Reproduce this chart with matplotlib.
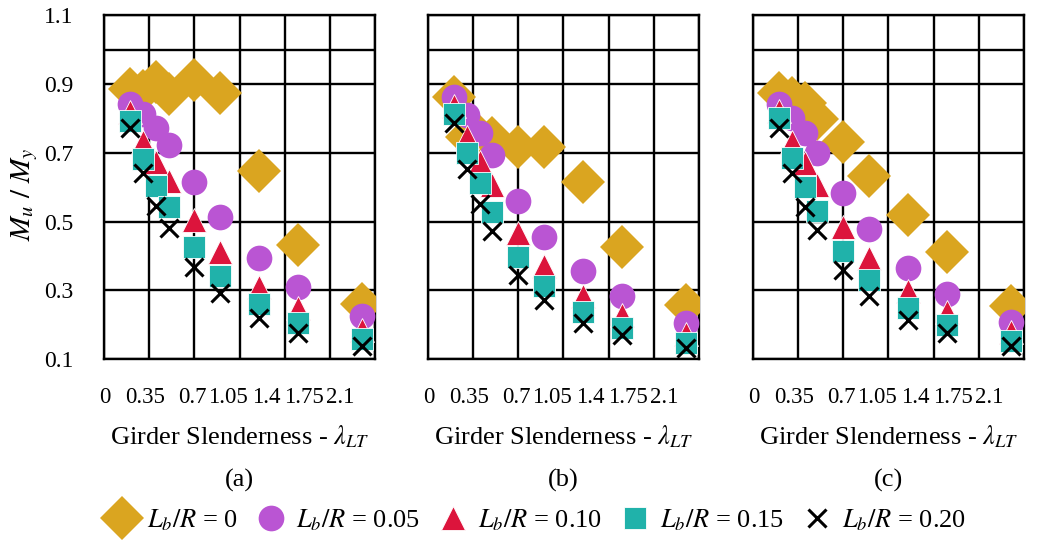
import matplotlib
matplotlib.use("Agg")
import matplotlib.pyplot as plt

plt.rcParams["font.family"] = ["Liberation Serif", "DejaVu Serif"]
plt.rcParams["mathtext.fontset"] = "stix"

# girder slenderness values (same for every series)
LAMBDA = [0.2, 0.3, 0.4, 0.5, 0.7, 0.9, 1.2, 1.5, 2.0]

# (a)
A_LR000 = [0.885, 0.88, 0.905, 0.872, 0.912, 0.875, 0.647, 0.431, 0.26]
A_LR005 = [0.843, 0.813, 0.771, 0.723, 0.615, 0.514, 0.393, 0.309, 0.224]
A_LR010 = [0.818, 0.732, 0.674, 0.617, 0.504, 0.41, 0.311, 0.249, 0.185]
A_LR015 = [0.792, 0.683, 0.604, 0.542, 0.426, 0.342, 0.261, 0.206, 0.158]
A_LR020 = [0.771, 0.640, 0.545, 0.480, 0.368, 0.292, 0.219, 0.177, 0.137]

# (b)
B_LR000 = [0.863, 0.745, 0.745, 0.742, 0.718, 0.716, 0.614, 0.425, 0.258]
B_LR005 = [0.861, 0.81, 0.756, 0.693, 0.56, 0.454, 0.355, 0.284, 0.206]
B_LR010 = [0.836, 0.747, 0.674, 0.606, 0.466, 0.371, 0.282, 0.229, 0.173]
B_LR015 = [0.812, 0.698, 0.611, 0.529, 0.398, 0.313, 0.238, 0.19, 0.146]
B_LR020 = [0.787, 0.652, 0.551, 0.471, 0.345, 0.272, 0.205, 0.171, 0.132]

# (c)
C_LR000 = [0.875, 0.86, 0.845, 0.797, 0.732, 0.632, 0.519, 0.41, 0.255]
C_LR005 = [0.842, 0.80, 0.756, 0.698, 0.584, 0.479, 0.364, 0.29, 0.209]
C_LR010 = [0.821, 0.732, 0.669, 0.606, 0.485, 0.393, 0.297, 0.238, 0.178]
C_LR015 = [0.80, 0.686, 0.60, 0.532, 0.413, 0.33, 0.248, 0.2, 0.154]
C_LR020 = [0.773, 0.642, 0.543, 0.476, 0.359, 0.284, 0.214, 0.176, 0.137]

PANELS = ["(a)", "(b)", "(c)"]
SERIES_LABELS = [r"$L_b/R$ = 0", r"$L_b/R$ = 0.05", r"$L_b/R$ = 0.10",
                 r"$L_b/R$ = 0.15", r"$L_b/R$ = 0.20"]
X_TICKS = [0, 0.35, 0.7, 1.05, 1.4, 1.75, 2.1]
X_TICK_LABELS = ["0", "0.35", "0.7", "1.05", "1.4", "1.75", "2.1"]
Y_TICKS = [0.1, 0.3, 0.5, 0.7, 0.9, 1.1]

# marker styles per series: (marker, color, size, edge color, edge width)
STYLES = [
    ("D", "#DAA520", 22.5, "none", 0),
    ("o", "#BA55D3", 18.5, "none", 0),
    ("^", "#DC143C", 17, "white", 0.6),
    ("s", "#20B2AA", 15.5, "white", 0.6),
    ("x", "black", 12.5, "black", 2.2),
]

# where the squashed tick labels sit (axes fraction)
TICK_LABEL_POS = [0.004, 0.151, 0.325, 0.458, 0.598, 0.738, 0.871]

data = [
    [A_LR000, A_LR005, A_LR010, A_LR015, A_LR020],
    [B_LR000, B_LR005, B_LR010, B_LR015, B_LR020],
    [C_LR000, C_LR005, C_LR010, C_LR015, C_LR020],
]

fig = plt.figure(figsize=(10.4, 5.4), dpi=100)
lefts = [0.1, 0.4115, 0.724]
handles = []
for i, left in enumerate(lefts):
    ax = fig.add_axes([left, 0.335, 0.2606, 0.637])
    for k, (series, (m, c, ms, ec, mew)) in enumerate(zip(data[i], STYLES)):
        h, = ax.plot(LAMBDA, series, linestyle="none", marker=m, color=c,
                     markersize=ms, markeredgecolor=ec if m != "x" else c,
                     markeredgewidth=mew, zorder=3 + k)
        if i == 0:
            handles.append(h)
    ax.set_xlim(0, 2.1)
    ax.set_ylim(0.1, 1.1)
    ax.set_xticks(X_TICKS)
    ax.set_xticklabels([])
    ax.set_yticks(Y_TICKS)
    ax.grid(True, color="black", linewidth=1.7, zorder=1)
    ax.axhline(1.0, color="black", linewidth=1.7, zorder=1)
    ax.set_axisbelow(True)
    for sp in ax.spines.values():
        sp.set_linewidth(1.7)
    ax.tick_params(length=0, labelsize=17, pad=22)
    if i == 0:
        ax.set_yticklabels([f"{v:.1f}" for v in Y_TICKS])
    else:
        ax.set_yticklabels([])
    for pos, lab in zip(TICK_LABEL_POS, X_TICK_LABELS):
        ax.text(pos, -0.113, lab, transform=ax.transAxes, ha="center",
                va="center", fontsize=16.5)
    ax.text(0.5, -0.227, r"Girder Slenderness - $\lambda_{LT}$",
            transform=ax.transAxes, ha="center", va="center", fontsize=19)
    ax.text(0.5, -0.352, PANELS[i], transform=ax.transAxes, ha="center",
            va="center", fontsize=19)

fig.text(0.024, 0.64, r"$M_u\ /\ M_y$", rotation=90, ha="center", va="center",
         fontsize=21)

fig.legend(handles, SERIES_LABELS, loc="center", bbox_to_anchor=(0.515, 0.037),
           ncol=5, frameon=False, fontsize=19, handletextpad=0.3,
           columnspacing=0.6, handlelength=1.3)

fig.savefig("out.png", dpi=100)
